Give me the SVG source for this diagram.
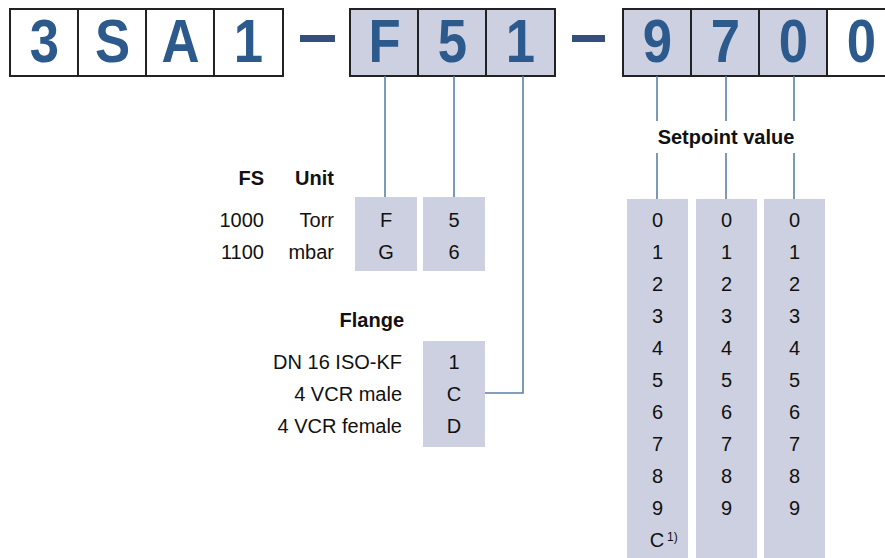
<svg xmlns="http://www.w3.org/2000/svg" width="885" height="558" viewBox="0 0 885 558">
<style>
.cell{stroke:#222;stroke-width:2}
.w{fill:#fff}
.g{fill:#cdd0e0}
.big{font-family:"Liberation Sans",Arial,sans-serif;font-weight:bold;font-size:62px;fill:#2c5a8c;text-anchor:middle}
.t{font-family:"Liberation Sans",Arial,sans-serif;font-size:20px;fill:#111}
.b{font-family:"Liberation Sans",Arial,sans-serif;font-size:20px;font-weight:bold;fill:#111}
.e{text-anchor:end}
.m{text-anchor:middle}
.box{fill:#cdd0e0}
.c{fill:none;stroke:#5a80a8;stroke-width:1.6}
.dash{fill:#344e7e}
</style>
<rect width="885" height="558" fill="#fff"/>
<g id="code">
  <rect class="cell w" x="10" y="9" width="68" height="67"/>
  <rect class="cell w" x="78" y="9" width="68" height="67"/>
  <rect class="cell w" x="146" y="9" width="68" height="67"/>
  <rect class="cell w" x="214" y="9" width="69" height="67"/>
  <rect class="dash" x="300" y="35" width="35" height="7"/>
  <rect class="cell g" x="350" y="9" width="68" height="67"/>
  <rect class="cell g" x="418" y="9" width="68" height="67"/>
  <rect class="cell g" x="486" y="9" width="69" height="67"/>
  <rect class="dash" x="572" y="35" width="33" height="7"/>
  <rect class="cell g" x="623" y="9" width="68" height="67"/>
  <rect class="cell g" x="691" y="9" width="68" height="67"/>
  <rect class="cell g" x="759" y="9" width="68" height="67"/>
  <rect class="cell w" x="827" y="9" width="68" height="67"/>
  <text class="big" transform="translate(44.5,62) scale(0.85,1)">3</text>
  <text class="big" transform="translate(112.5,62) scale(0.85,1)">S</text>
  <text class="big" transform="translate(180.5,62) scale(0.85,1)">A</text>
  <text class="big" transform="translate(248.5,62) scale(0.85,1)">1</text>
  <text class="big" transform="translate(384.5,62) scale(0.85,1)">F</text>
  <text class="big" transform="translate(452.5,62) scale(0.85,1)">5</text>
  <text class="big" transform="translate(520.5,62) scale(0.85,1)">1</text>
  <text class="big" transform="translate(657.5,62) scale(0.85,1)">9</text>
  <text class="big" transform="translate(725.5,62) scale(0.85,1)">7</text>
  <text class="big" transform="translate(793.5,62) scale(0.85,1)">0</text>
  <text class="big" transform="translate(861.5,62) scale(0.85,1)">0</text>
</g>
<g id="connectors">
  <path class="c" d="M385,76 V197"/>
  <path class="c" d="M454,76 V197"/>
  <path class="c" d="M523,76 V393 H485"/>
  <path class="c" d="M657,76 V121 M657,153 V199"/>
  <path class="c" d="M726,76 V121 M726,153 V199"/>
  <path class="c" d="M794,76 V121 M794,153 V199"/>
</g>
<g id="fs-unit">
  <text class="b e" x="264" y="185">FS</text>
  <text class="b e" x="334" y="185">Unit</text>
  <text class="t e" x="264" y="227">1000</text>
  <text class="t e" x="334" y="227">Torr</text>
  <text class="t e" x="264" y="259">1100</text>
  <text class="t e" x="334" y="259">mbar</text>
  <rect class="box" x="355" y="197" width="62" height="74"/>
  <rect class="box" x="423" y="197" width="62" height="74"/>
  <text class="t m" x="386" y="227">F</text>
  <text class="t m" x="386" y="259">G</text>
  <text class="t m" x="454" y="227">5</text>
  <text class="t m" x="454" y="259">6</text>
</g>
<g id="flange">
  <text class="b e" x="404" y="327">Flange</text>
  <text class="t e" x="402" y="369">DN 16 ISO-KF</text>
  <text class="t e" x="402" y="401">4 VCR male</text>
  <text class="t e" x="402" y="433">4 VCR female</text>
  <rect class="box" x="423" y="341" width="62" height="106"/>
  <text class="t m" x="454" y="369">1</text>
  <text class="t m" x="454" y="401">C</text>
  <text class="t m" x="454" y="433">D</text>
</g>
<g id="setpoint">
  <text class="b m" x="726" y="144">Setpoint value</text>
  <rect class="box" x="627" y="199" width="61" height="359"/>
  <rect class="box" x="696" y="199" width="61" height="359"/>
  <rect class="box" x="764" y="199" width="61" height="359"/>
  <g class="t m">
    <text x="657.5" y="226.5">0</text><text x="657.5" y="258.5">1</text><text x="657.5" y="290.5">2</text><text x="657.5" y="322.5">3</text><text x="657.5" y="354.5">4</text><text x="657.5" y="386.5">5</text><text x="657.5" y="418.5">6</text><text x="657.5" y="450.5">7</text><text x="657.5" y="482.5">8</text><text x="657.5" y="514.5">9</text><text x="657" y="547">C</text>
    <text x="726.5" y="226.5">0</text><text x="726.5" y="258.5">1</text><text x="726.5" y="290.5">2</text><text x="726.5" y="322.5">3</text><text x="726.5" y="354.5">4</text><text x="726.5" y="386.5">5</text><text x="726.5" y="418.5">6</text><text x="726.5" y="450.5">7</text><text x="726.5" y="482.5">8</text><text x="726.5" y="514.5">9</text>
    <text x="794.5" y="226.5">0</text><text x="794.5" y="258.5">1</text><text x="794.5" y="290.5">2</text><text x="794.5" y="322.5">3</text><text x="794.5" y="354.5">4</text><text x="794.5" y="386.5">5</text><text x="794.5" y="418.5">6</text><text x="794.5" y="450.5">7</text><text x="794.5" y="482.5">8</text><text x="794.5" y="514.5">9</text>
  </g>
  <text class="t" x="667" y="541" style="font-size:12px">1)</text>
</g>
</svg>
